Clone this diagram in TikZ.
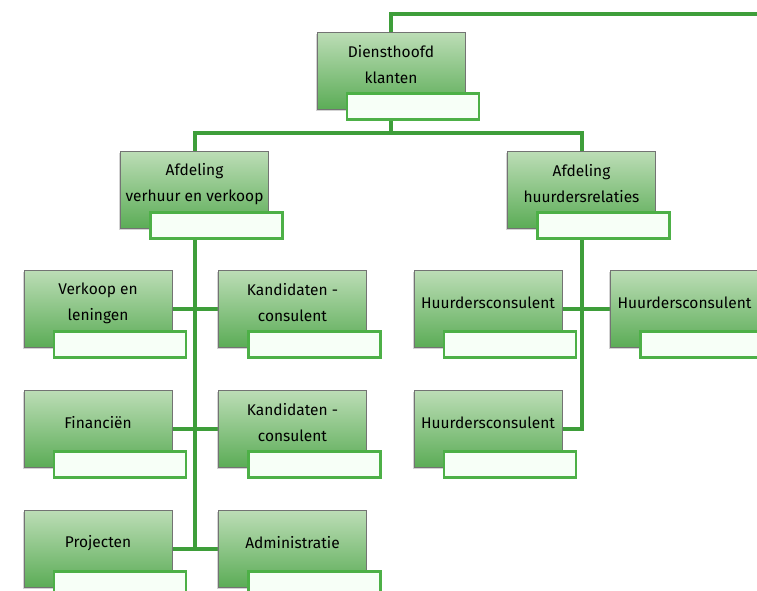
\documentclass[tikz,border=0pt]{standalone}
\usepackage{fontspec}
\setmainfont{Fira Sans}
\usepackage{tikz}
\usetikzlibrary{calc}
\usetikzlibrary{backgrounds}
\usetikzlibrary{shadows}
\usetikzlibrary{positioning}
\definecolor{boxtop}{HTML}{BCDDB6}
\definecolor{boxbot}{HTML}{5BAC56}
\definecolor{linegreen}{HTML}{3E9E3A}
\definecolor{tagline}{HTML}{4DB047}
\tikzset{unit/.style={rectangle,anchor=north,draw=black!55,line width=1pt,top color=boxtop,bottom color=boxbot,minimum width=148pt,minimum height=77pt,inner sep=0pt,drop shadow={shadow xshift=-1.5pt,shadow yshift=-1.5pt,opacity=0.35}}}
\tikzset{tag/.style={rectangle,anchor=north west,draw=tagline,line width=2.5pt,fill=green!3!white,minimum width=132pt,minimum height=26pt,inner sep=0pt}}
\tikzset{txt/.style={align=center,font=\fontsize{15.5}{26}\selectfont,inner sep=0pt}}
\tikzset{link/.style={draw=linegreen,line width=4pt}}

\begin{document}
\begin{tikzpicture}[x=1pt,y=-1pt]

\useasboundingbox (0,0) rectangle (757,590);
\clip (0,0) rectangle (757,590);

\foreach \n / \x / \y / \t in {D/391/32/{Diensthoofd\\klanten},
	A1/194.5/151/{Afdeling\\verhuur en verkoop},A2/581.5/151/{Afdeling\\huurdersrelaties},
	V1/98/270/{Verkoop en\\leningen},K1/292.5/270/{Kandidaten -\\consulent},
	F/98/390/{Financiën},K2/292.5/390/{Kandidaten -\\consulent},
	P/98/510/{Projecten},Ad/292.5/510/{Administratie},
	H1/488/270/{Huurdersconsulent},H2/684.5/270/{Huurdersconsulent},H3/488/390/{Huurdersconsulent}}
{
	\node[unit] (\n) at (\x,\y) {};
	\node[txt] (\n t) at ($(\n.north)+(0,33)$) {\t};
	\node[tag] (\n g) at ($(\n.south west)+(29,-18)$) {};
}

\coordinate (top) at (757,14);
\coordinate (bus) at (391,133);

\begin{scope}[on background layer]
\draw[link] (D.north) |- (top);
\draw[link] (D.south) -- (bus);
\draw[link] (A1.north) |- (bus) -| (A2.north);
\draw[link] (A1.south) -- (A1.south |- P.east);
\draw[link] (A2.south) |- (H3.east);
\draw[link] (V1.east) -- (K1.west);
\draw[link] (F.east) -- (K2.west);
\draw[link] (P.east) -- (Ad.west);
\draw[link] (H1.east) -- (H2.west);
\end{scope}

\end{tikzpicture}
\end{document}
